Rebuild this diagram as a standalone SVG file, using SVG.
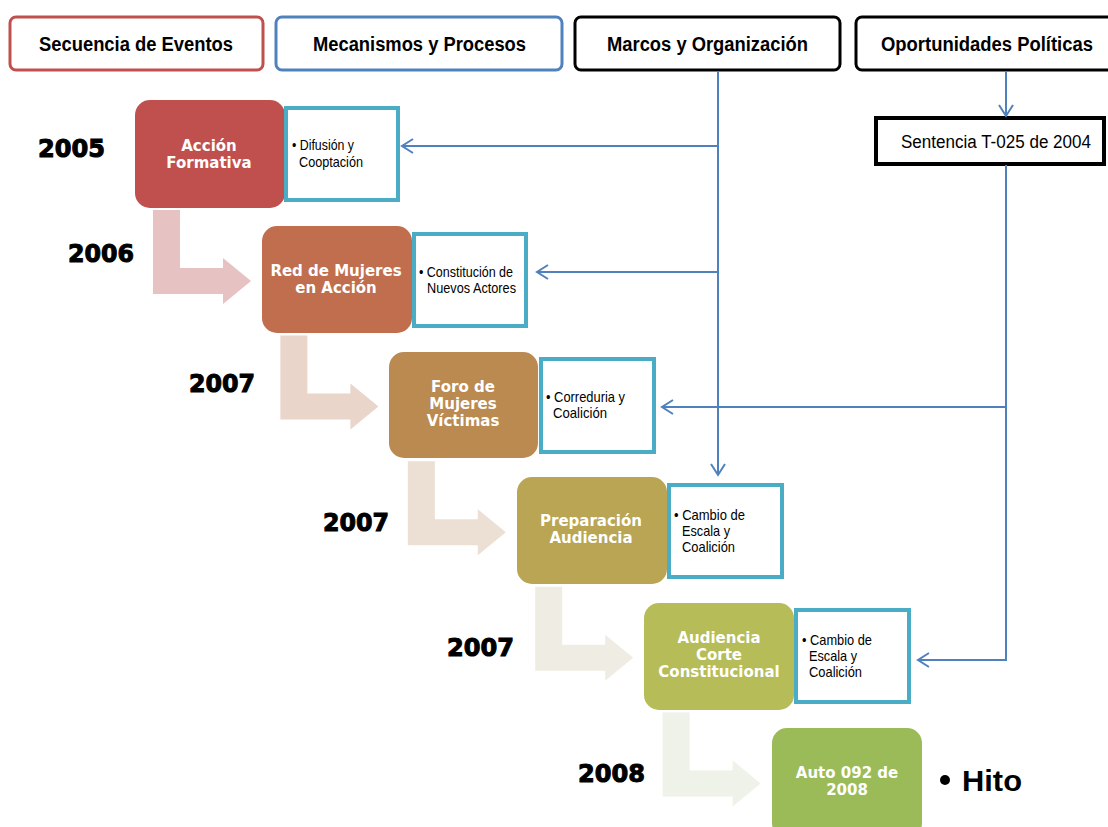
<svg xmlns="http://www.w3.org/2000/svg" width="1108" height="827" viewBox="0 0 1108 827">
<defs>
<marker id="chev" viewBox="-13 -9 15 18" refX="0" refY="0" markerWidth="15" markerHeight="18" markerUnits="userSpaceOnUse" orient="auto">
<path d="M-11,-7 L0,0 L-11,7" fill="none" stroke="#4F81BD" stroke-width="2"/>
</marker>
<path id="bend" d="M153,210 L180,210 L180,268 L223,268 L223,258 L251,281 L223,304 L223,294 L153,294 Z"/>
</defs>
<style>
.hdr{fill:#fff;stroke-width:3}
.ht{font-family:"Liberation Sans",Arial,sans-serif;font-weight:bold;font-size:20px;fill:#000}
.ev{stroke:none}
.et{font-family:"DejaVu Sans",Verdana,sans-serif;font-weight:bold;font-size:15px;fill:#fff;text-anchor:middle}
.db{fill:#fff;stroke:#4BACC6;stroke-width:4}
.dt{font-family:"Liberation Sans",Arial,sans-serif;font-size:14.5px;fill:#000}
.yr{font-family:"DejaVu Sans",sans-serif;font-weight:bold;font-size:24px;fill:#000;stroke:#000;stroke-width:1}
.cn{fill:none;stroke:#4F81BD;stroke-width:2}
</style>
<rect width="1108" height="827" fill="#fff"/>

<!-- bent arrows -->
<g id="bent-arrows">
<use href="#bend" fill="#E6C3C2"/>
<use href="#bend" fill="#E9D5CA" transform="translate(127.4,125.6)"/>
<use href="#bend" fill="#ECDFD3" transform="translate(254.8,251.2)"/>
<use href="#bend" fill="#EFEDE3" transform="translate(382.2,376.8)"/>
<use href="#bend" fill="#EFF2E8" transform="translate(509.6,502.4)"/>
</g>

<!-- headers -->
<g id="h-secuencia"><rect class="hdr" x="10" y="17" width="253" height="53" rx="6" stroke="#C0504D"/><text class="ht" x="39" y="51" textLength="194" lengthAdjust="spacingAndGlyphs">Secuencia de Eventos</text></g>
<g id="h-mecanismos"><rect class="hdr" x="276" y="17" width="286" height="53" rx="6" stroke="#4F81BD"/><text class="ht" x="313" y="51" textLength="213" lengthAdjust="spacingAndGlyphs">Mecanismos y Procesos</text></g>
<g id="h-marcos"><rect class="hdr" x="575" y="17" width="265" height="53" rx="6" stroke="#000"/><text class="ht" x="607" y="51" textLength="201" lengthAdjust="spacingAndGlyphs">Marcos y Organización</text></g>
<g id="h-oportunidades"><rect class="hdr" x="856" y="17" width="260" height="53" rx="6" stroke="#000"/><text class="ht" x="881" y="51" textLength="212" lengthAdjust="spacingAndGlyphs">Oportunidades Políticas</text></g>

<g id="sentencia"><rect x="876" y="118" width="228" height="46" fill="#fff" stroke="#000" stroke-width="4"/><text x="901" y="148" font-family="Liberation Sans, Arial, sans-serif" font-size="18" textLength="190" lengthAdjust="spacingAndGlyphs">Sentencia T-025 de 2004</text></g>

<!-- connectors -->
<g id="connectors">
<path class="cn" d="M718,71 V475" marker-end="url(#chev)"/>
<path class="cn" d="M718,146 H402" marker-end="url(#chev)"/>
<path class="cn" d="M718,272 H537" marker-end="url(#chev)"/>
<path class="cn" d="M1006,71 V116" marker-end="url(#chev)"/>
<path class="cn" d="M1006,165 V660 H918" marker-end="url(#chev)"/>
<path class="cn" d="M1006,407 H662" marker-end="url(#chev)"/>
</g>

<!-- years -->
<g id="years">
<text class="yr" x="38" y="157" textLength="67" lengthAdjust="spacingAndGlyphs">2005</text>
<text class="yr" x="68" y="262" textLength="66" lengthAdjust="spacingAndGlyphs">2006</text>
<text class="yr" x="189" y="392" textLength="66" lengthAdjust="spacingAndGlyphs">2007</text>
<text class="yr" x="323" y="531" textLength="66" lengthAdjust="spacingAndGlyphs">2007</text>
<text class="yr" x="447" y="656" textLength="67" lengthAdjust="spacingAndGlyphs">2007</text>
<text class="yr" x="578" y="782" textLength="67" lengthAdjust="spacingAndGlyphs">2008</text>
</g>

<!-- events -->
<g id="ev1"><rect class="ev" x="135" y="100" width="150" height="108" rx="15" fill="#C0504D"/><text class="et" x="209" y="151">Acción</text><text class="et" x="209" y="168">Formativa</text></g>
<g id="d1"><rect class="db" x="286" y="108" width="112" height="92"/><text class="dt" x="292" y="150" textLength="62" lengthAdjust="spacingAndGlyphs">• Difusión y</text><text class="dt" x="299" y="167" textLength="64" lengthAdjust="spacingAndGlyphs">Cooptación</text></g>

<g id="ev2"><rect class="ev" x="262" y="226" width="150" height="107" rx="15" fill="#C06E4E"/><text class="et" x="336" y="276">Red de Mujeres</text><text class="et" x="336" y="293">en Acción</text></g>
<g id="d2"><rect class="db" x="414" y="234" width="112" height="92"/><text class="dt" x="419" y="277" textLength="94" lengthAdjust="spacingAndGlyphs">• Constitución de</text><text class="dt" x="427" y="293" textLength="89" lengthAdjust="spacingAndGlyphs">Nuevos Actores</text></g>

<g id="ev3"><rect class="ev" x="389" y="352" width="149" height="106" rx="15" fill="#BA8A50"/><text class="et" x="463" y="392">Foro de</text><text class="et" x="463" y="409">Mujeres</text><text class="et" x="463" y="426">Víctimas</text></g>
<g id="d3"><rect class="db" x="541" y="359" width="113" height="93"/><text class="dt" x="546" y="402" textLength="79" lengthAdjust="spacingAndGlyphs">• Correduria y</text><text class="dt" x="553" y="418" textLength="54" lengthAdjust="spacingAndGlyphs">Coalición</text></g>

<g id="ev4"><rect class="ev" x="517" y="477" width="150" height="107" rx="15" fill="#B9A553"/><text class="et" x="591" y="526">Preparación</text><text class="et" x="591" y="543">Audiencia</text></g>
<g id="d4"><rect class="db" x="669" y="485" width="113" height="92"/><text class="dt" x="674" y="520" textLength="71" lengthAdjust="spacingAndGlyphs">• Cambio de</text><text class="dt" x="682" y="536" textLength="48" lengthAdjust="spacingAndGlyphs">Escala y</text><text class="dt" x="682" y="552" textLength="53" lengthAdjust="spacingAndGlyphs">Coalición</text></g>

<g id="ev5"><rect class="ev" x="644" y="603" width="150" height="107" rx="15" fill="#B6BC58"/><text class="et" x="719" y="643">Audiencia</text><text class="et" x="719" y="660">Corte</text><text class="et" x="719" y="677">Constitucional</text></g>
<g id="d5"><rect class="db" x="796" y="610" width="113" height="92"/><text class="dt" x="802" y="645" textLength="70" lengthAdjust="spacingAndGlyphs">• Cambio de</text><text class="dt" x="809" y="661" textLength="48" lengthAdjust="spacingAndGlyphs">Escala y</text><text class="dt" x="809" y="677" textLength="53" lengthAdjust="spacingAndGlyphs">Coalición</text></g>

<g id="ev6"><rect class="ev" x="772" y="728" width="150" height="110" rx="15" fill="#9BBB59"/><text class="et" x="847" y="778">Auto 092 de</text><text class="et" x="847" y="795">2008</text></g>
<g id="hito"><circle cx="945" cy="780" r="5" fill="#000"/><text x="962" y="791" font-family="Liberation Sans, Arial, sans-serif" font-weight="bold" font-size="30" fill="#000" textLength="60" lengthAdjust="spacingAndGlyphs">Hito</text></g>
</svg>
